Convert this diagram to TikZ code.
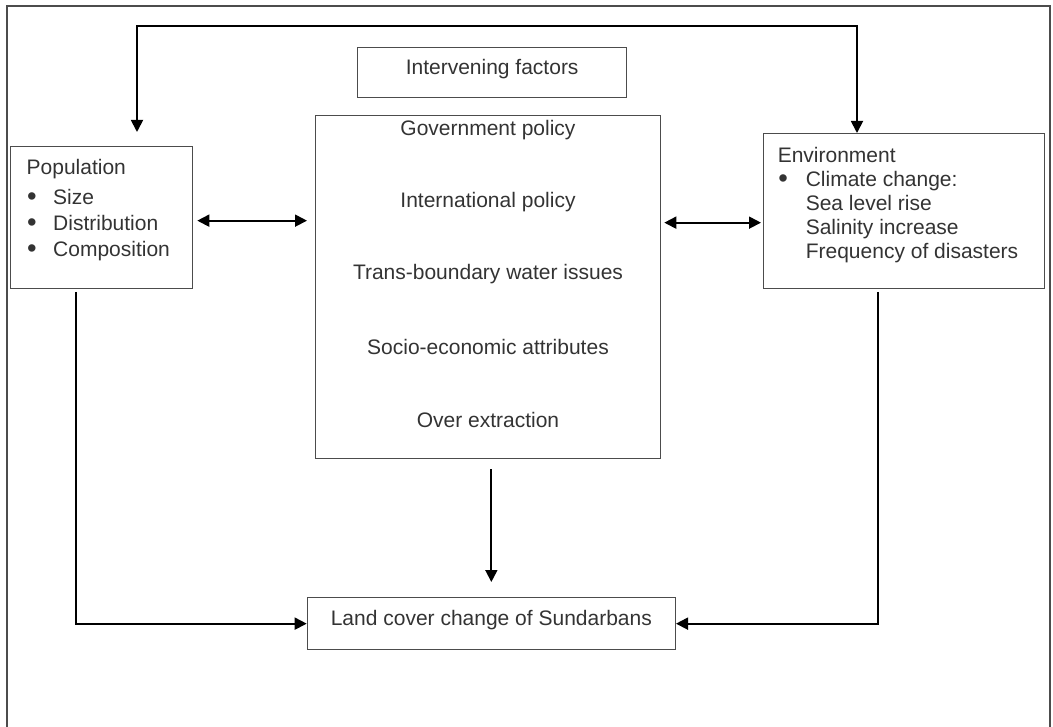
\documentclass[tikz,border=0pt]{standalone}
\usepackage{fontspec}
\setmainfont{Liberation Sans}
\usetikzlibrary{arrows.meta}
\newcommand{\bigbul}[1]{\makebox[#1][l]{\hspace{0.5pt}\raisebox{-0.8pt}{\scalebox{1.3}{\textbullet}}}}
\begin{document}
\begin{tikzpicture}[x=1pt,y=-1pt]
\tikzstyle{box}=[draw=black!70,line width=1.3pt,inner sep=0pt,anchor=north west]
\tikzstyle{boxtxt}=[text=black!80,font=\fontsize{21}{26}\selectfont,text height=12pt,text depth=8pt]
\tikzstyle{txt}=[text=black!80,inner sep=0pt]
\tikzstyle{conn}=[draw=black,line width=1.8pt,-{Triangle[length=12pt,width=12pt]}]
\useasboundingbox (0,0) rectangle (1053,727);
\draw[draw=black!70,line width=1.2pt] (7,727) -- (7,6) -- (1050,6) -- (1050,727);
\node[box,minimum width=182pt,minimum height=142pt] at (10,146) (pop) {};
\node[box,boxtxt,minimum width=269pt,minimum height=50pt] at (357,47) (fac) {Intervening factors};
\node[box,minimum width=345pt,minimum height=343pt] at (315,115) (mid) {};
\node[box,minimum width=281pt,minimum height=155pt] at (763,133) (env) {};
\node[box,boxtxt,minimum width=368pt,minimum height=52pt] at (306.7,597) (land) {Land cover change of Sundarbans};
\node[txt,anchor=base west,font=\fontsize{21}{26}\selectfont] at (26.5,175) (poptxt) {\begin{tabular}[t]{@{}l@{}l@{}}
\multicolumn{2}{@{}l}{Population}\\[4pt]
\bigbul{26.5pt} & Size\\
\bigbul{26.5pt} & Distribution\\
\bigbul{26.5pt} & Composition
\end{tabular}};
\node[txt,anchor=base west,font=\fontsize{21}{24}\selectfont] at (777.6,162.7) (envtxt) {\begin{tabular}[t]{@{}l@{}l@{}}
\multicolumn{2}{@{}l}{Environment}\\
\bigbul{28pt} & Climate change:\\
 & Sea level rise\\
 & Salinity increase\\
 & Frequency of disasters
\end{tabular}};
\node[txt,anchor=base,font=\fontsize{21}{27}\selectfont] at (488,136) (midtxt) {\begin{tabular}[t]{@{}c@{}}
Government policy\\[45pt]
International policy\\[45pt]
Trans-boundary water issues\\[48pt]
Socio-economic attributes\\[46pt]
Over extraction
\end{tabular}};
\coordinate (loopL) at (137,26);
\coordinate (loopR) at (857,26);
\coordinate (popout) at (76,292);
\coordinate (envout) at (878,292);
\draw[conn,{Triangle[length=12pt,width=12pt]}-{Triangle[length=12pt,width=12pt]},shorten <=14pt] (loopL |- pop.north) -- (loopL) -- (loopR) -- (loopR |- env.north);
\draw[conn,{Triangle[length=12pt,width=12pt]}-{Triangle[length=12pt,width=12pt]},shorten <=4pt,shorten >=8pt] ([yshift=-3pt]pop.east) -- ([yshift=-3pt]pop.east -| mid.west);
\draw[conn,{Triangle[length=12pt,width=12pt]}-{Triangle[length=12pt,width=12pt]},shorten <=3pt,shorten >=2pt] ([yshift=-11.5pt]mid.east |- env.west) -- ([yshift=-11.5pt]env.west);
\draw[conn,shorten <=10pt,shorten >=15pt] (land.north |- mid.south) -- (land.north);
\draw[conn] (popout) -- (popout |- land.west) -- (land.west);
\draw[conn] (envout) -- (envout |- land.east) -- (land.east);
\end{tikzpicture}
\end{document}
